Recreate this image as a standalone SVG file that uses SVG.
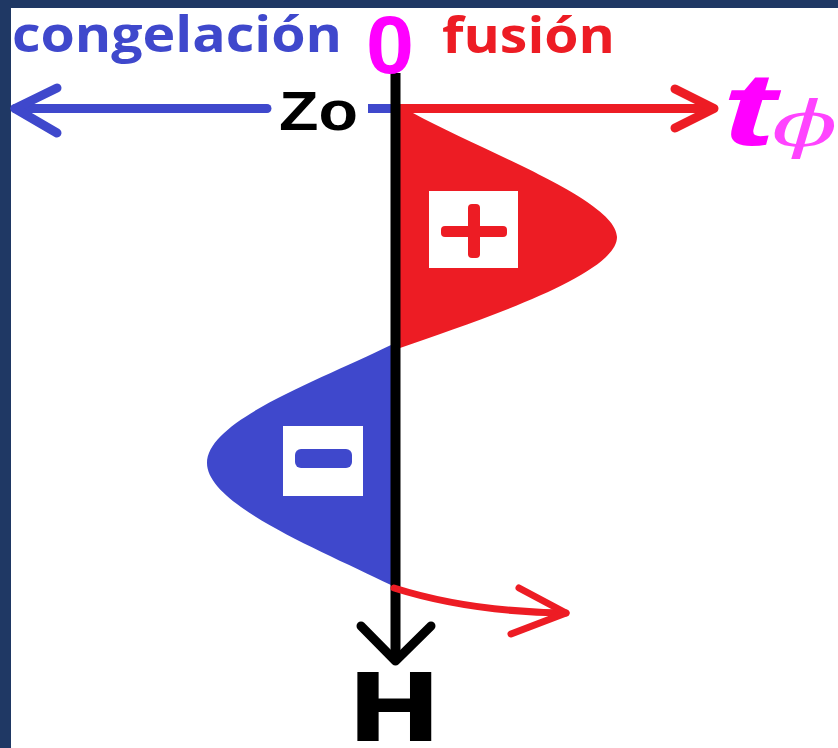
<svg xmlns="http://www.w3.org/2000/svg" width="838" height="748" viewBox="0 0 838 748">
<style>
.blue{fill:#3F48CC}
.red{fill:#ED1C24}
.lbl{font-family:"Open Sans","DejaVu Sans",sans-serif;font-weight:bold;font-size:50px}
.ln{fill:none;stroke-linecap:round;stroke-linejoin:round}
</style>
<rect x="0" y="0" width="838" height="748" fill="#1F3864"/>
<rect x="11" y="8" width="827" height="740" fill="#FFFFFF"/>

<g id="lobe-positive">
<path d="M400 110 L413 113 C480 150 617 200 617 237 C617 275 480 320 400 348 Z" class="red"/>
<rect x="429" y="191" width="89" height="77" fill="#FFFFFF"/>
<rect x="441" y="226" width="66" height="11" rx="4" class="red"/>
<rect x="468" y="204" width="12" height="54" rx="4" class="red"/>
</g>

<g id="lobe-negative">
<path d="M391 345 C320 380 207 420 207 463 C207 505 320 550 391 585 Z" class="blue"/>
<rect x="283" y="426" width="80" height="70" fill="#FFFFFF"/>
<rect x="295" y="449" width="57" height="19" rx="6" class="blue"/>
</g>

<g id="connectors">
<line x1="15" y1="108.5" x2="267" y2="108.5" class="ln" stroke="#3F48CC" stroke-width="9"/>
<line x1="368" y1="108.5" x2="392" y2="108.5" stroke="#3F48CC" stroke-width="9"/>
<polyline points="57,88 15,108.5 57,133" class="ln" stroke="#3F48CC" stroke-width="9"/>
<line x1="400" y1="108.5" x2="712" y2="108.5" class="ln" stroke="#ED1C24" stroke-width="9"/>
<polyline points="675,89 714,108.5 675,128" class="ln" stroke="#ED1C24" stroke-width="9"/>
<line x1="395.5" y1="73" x2="395.5" y2="660" stroke="#000000" stroke-width="10"/>
<polyline points="361,626 395.5,661 431,626" class="ln" stroke="#000000" stroke-width="9"/>
<path d="M394 588 Q470 612 566 613" class="ln" stroke="#ED1C24" stroke-width="7"/>
<polyline points="519,588 566,613 511,634" class="ln" stroke="#ED1C24" stroke-width="7"/>
</g>

<g id="labels">
<text x="12" y="52" class="lbl" fill="#3F48CC" textLength="330" lengthAdjust="spacingAndGlyphs">congelación</text>
<text x="442" y="53" class="lbl" fill="#ED1C24" textLength="173" lengthAdjust="spacingAndGlyphs">fusión</text>
<text x="366" y="73" font-family="Liberation Sans, Arial, sans-serif" font-weight="bold" font-size="81" fill="#FF00FF" textLength="48" lengthAdjust="spacingAndGlyphs">0</text>
<text x="279" y="130" font-family="Liberation Sans, Arial, sans-serif" font-weight="bold" font-size="56" fill="#000000" textLength="79" lengthAdjust="spacingAndGlyphs">Zo</text>
<text transform="translate(722,145) scale(1.55,1)" font-family="Liberation Sans, Arial, sans-serif" font-weight="bold" font-style="italic" font-size="104" fill="#FF00FF">t</text>
<text transform="translate(772,146) scale(1.5,1)" font-family="DejaVu Serif, Liberation Serif, serif" font-style="italic" font-size="64" fill="#FF44FF">ϕ</text>
<text transform="translate(347,741) scale(1.19,1)" font-family="DejaVu Sans, sans-serif" font-weight="bold" font-size="95" fill="#000000">H</text>
</g>
</svg>
